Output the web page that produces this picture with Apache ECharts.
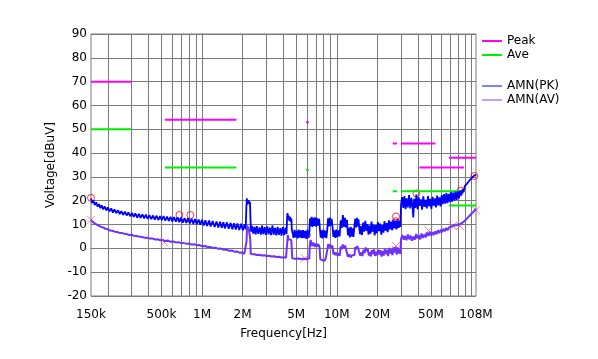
<!DOCTYPE html>
<html>
<head>
<meta charset="utf-8">
<script src="https://cdn.jsdelivr.net/npm/echarts@6/dist/echarts.min.js"></script>
<style>
html,body{margin:0;padding:0;background:#fff;}
#c{width:598px;height:359px;}
</style>
</head>
<body>
<div id="c"></div>
<script>
// ---- data (frequency in MHz, level in dBuV) ----
const xLabelFreqs = [0.15, 0.5, 1, 2, 5, 10, 20, 50, 108];
const xLabelTexts = ['150k', '500k', '1M', '2M', '5M', '10M', '20M', '50M', '108M'];
const gridFreqs = [0.2,0.3,0.4,0.5,0.6,0.7,0.8,0.9,1,2,3,4,5,6,7,8,9,10,20,30,40,50,60,70,80,90,100];

// [startMHz, endMHz, level]
const peakLimits = [[0.15,0.3,70],[0.53,1.8,54],[5.9,6.2,53],[26,28,44],[30,54,44],[41,88,34],[68,108,38]];
const aveLimits  = [[0.15,0.3,50],[0.53,1.8,34],[5.9,6.2,33],[26,28,24],[30,54,24],[41,88,24],[68,108,18]];

const pkTrace = [
[0.150,21.0],[0.153,19.0],[0.156,20.2],[0.160,18.2],[0.164,19.3],[0.168,17.5],[0.172,18.6],[0.176,16.9],[0.180,18.1],[0.185,16.4],[0.190,17.6],[0.195,15.9],[0.200,17.2],[0.206,15.5],[0.212,16.8],[0.218,15.0],[0.224,16.4],[0.231,14.8],[0.238,16.0],[0.245,14.4],[0.252,15.6],[0.260,14.1],[0.268,15.4],[0.276,13.8],[0.284,15.1],[0.293,13.5],[0.302,14.9],[0.311,13.2],[0.320,14.7],[0.330,12.9],[0.340,14.5],[0.350,12.8],[0.361,14.3],[0.372,12.6],[0.383,14.2],[0.395,12.4],[0.407,13.9],[0.420,12.3],[0.433,13.8],[0.446,12.1],[0.460,13.7],[0.474,11.9],[0.488,13.5],[0.503,11.8],[0.518,13.6],[0.534,11.6],[0.550,13.3],[0.567,11.5],[0.584,13.2],[0.602,11.3],[0.620,13.1],[0.639,11.2],[0.658,13.0],[0.678,11.0],[0.699,12.9],[0.720,10.8],[0.742,12.7],[0.765,10.7],[0.788,12.6],[0.812,10.5],[0.837,12.4],[0.862,10.3],[0.888,12.3],[0.915,10.1],[0.943,12.1],[0.972,9.9],[1.00,12.0],[1.03,9.6],[1.06,11.8],[1.09,9.4],[1.13,11.7],[1.16,9.2],[1.20,11.5],[1.24,9.0],[1.28,11.3],[1.32,8.8],[1.36,11.2],[1.40,8.6],[1.44,11.0],[1.48,8.4],[1.53,10.9],[1.58,8.2],[1.63,10.7],[1.68,8.0],[1.73,10.6],[1.78,7.9],[1.83,10.4],[1.89,7.7],[1.95,10.3],[2.01,7.6],[2.07,10.1],[2.11,8.0],
[2.13,16.0],[2.15,21.0],[2.17,18.5],[2.19,20.2],[2.21,18.8],[2.23,20.0],[2.25,18.6],[2.27,19.5],[2.29,12.0],[2.31,7.0],
[2.35,9.4],[2.40,6.2],[2.45,9.0],[2.50,5.9],[2.55,9.3],[2.61,6.1],[2.67,8.8],[2.73,5.8],[2.79,9.5],[2.85,6.0],[2.92,8.9],[2.98,5.7],[3.05,9.2],[3.12,5.9],[3.19,8.7],[3.26,5.6],[3.33,9.6],[3.41,5.8],[3.48,8.6],[3.56,5.5],[3.64,9.0],[3.72,5.7],[3.81,8.5],[3.89,5.4],[3.98,8.9],[4.07,5.6],[4.16,8.7],[4.24,6.0],
[4.28,13.0],[4.31,14.8],[4.35,12.5],[4.40,13.8],[4.45,11.5],[4.50,13.2],[4.55,11.2],[4.60,12.6],[4.64,8.0],
[4.70,7.6],[4.78,4.4],[4.86,7.8],[4.95,4.6],[5.04,7.4],[5.13,4.2],[5.22,7.9],[5.32,4.5],[5.42,7.5],[5.52,4.3],[5.62,7.7],[5.72,4.4],[5.83,7.3],[5.94,4.1],[6.05,7.8],[6.16,4.5],[6.27,7.2],
[6.32,12.5],[6.40,9.3],[6.50,13.2],[6.60,9.0],[6.70,12.8],[6.80,9.4],[6.92,13.0],[7.04,9.1],[7.16,12.6],[7.28,9.5],[7.40,12.4],[7.50,8.0],
[7.60,4.5],[7.72,7.6],[7.85,4.2],[7.98,7.8],[8.11,4.6],[8.24,7.4],[8.37,4.3],[8.50,7.7],
[8.62,12.6],[8.75,9.2],[8.88,12.9],[9.02,9.5],[9.16,12.4],[9.30,9.0],
[9.45,4.8],[9.60,7.6],[9.76,4.4],[9.92,7.9],[10.1,4.7],[10.3,7.5],[10.5,5.0],
[10.7,11.8],[10.9,8.6],[11.1,14.0],[11.3,9.0],[11.5,12.8],[11.7,8.8],[11.9,12.0],
[12.1,5.5],[12.3,8.6],[12.5,4.6],[12.7,9.0],[12.9,5.0],[13.1,8.4],[13.3,4.8],[13.5,8.8],
[13.7,12.4],[13.9,8.8],[14.1,12.8],[14.3,9.2],[14.5,12.2],[14.7,8.5],
[14.9,6.0],[15.1,9.4],[15.4,5.6],[15.7,10.8],[16.0,7.0],[16.3,11.6],[16.6,7.4],[16.9,10.2],[17.2,5.8],[17.5,9.6],[17.8,6.2],[18.1,11.2],[18.4,7.0],[18.8,10.0],[19.1,5.4],[19.5,9.8],[19.8,6.4],
[20.2,11.0],[20.6,7.2],[21.0,10.4],[21.4,5.8],[21.8,9.8],[22.2,6.6],[22.6,11.4],[23.0,7.4],[23.5,10.6],[23.9,6.8],[24.4,11.8],[24.8,8.0],[25.3,11.2],[25.8,7.6],[26.3,12.0],[26.8,8.4],[27.3,11.6],[27.8,8.0],[28.3,12.2],[28.8,8.6],[29.3,11.4],[29.7,9.0],
[30.0,18.5],[30.6,21.5],[31.2,17.0],[31.8,22.0],[32.4,16.5],[33.0,21.0],[33.7,17.2],[34.4,22.4],[35.1,16.8],[35.8,21.2],[36.5,17.5],[37.0,13.0],[37.5,20.8],[38.3,17.0],[39.0,22.6],[39.8,16.4],[40.6,21.4],[41.4,17.8],[42.2,20.6],[43.0,16.2],[43.9,21.8],[44.8,17.4],[45.7,20.4],[46.6,16.8],[47.5,22.0],[48.5,17.6],[49.4,20.8],[50.4,16.6],[51.4,21.6],[52.4,17.9],[53.5,21.0],[54.5,17.2],[55.6,22.2],[56.7,18.0],[57.8,21.4],[59.0,17.6],[60.1,22.4],[61.3,18.6],[62.5,22.8],[63.8,18.8],[65.0,23.2],[66.3,19.0],[67.6,22.9],[69.0,19.4],[70.3,23.6],[71.7,19.6],[73.2,23.4],[74.6,20.0],[76.1,23.8],[77.6,20.4],[79.1,23.9],[80.7,21.0],[82.3,24.2],[83.9,22.2],[85.6,24.8],[87.3,23.6],[89.0,26.0],[90.8,25.2],[92.6,27.2],[94.4,26.8],[96.3,28.4],[98.2,28.2],[100.1,29.5],[102.1,29.3],[104.1,30.4],[106.0,30.3],[108.0,31.0]
];

const avTrace = [
[0.150,12.0],[0.155,11.0],[0.160,10.6],[0.166,9.9],[0.172,9.5],[0.178,9.0],[0.185,8.8],[0.192,8.2],[0.200,8.0],[0.208,7.5],[0.216,7.4],[0.225,7.0],[0.234,6.9],[0.244,6.5],[0.254,6.5],[0.265,6.1],[0.276,6.0],[0.288,5.6],[0.300,5.7],[0.312,5.3],[0.325,5.2],[0.335,5.6],[0.340,5.0],[0.350,4.8],[0.365,4.7],[0.380,4.4],[0.395,4.5],[0.410,4.1],[0.430,4.1],[0.450,3.7],[0.470,3.8],[0.490,3.4],[0.510,3.5],[0.530,3.1],[0.560,3.2],[0.580,2.8],[0.610,2.9],[0.640,2.5],[0.670,2.6],[0.700,2.2],[0.730,2.3],[0.770,1.9],[0.800,2.0],[0.840,1.6],[0.880,1.7],[0.920,1.3],[0.960,1.4],[1.00,0.9],[1.05,1.0],[1.10,0.6],[1.15,0.6],[1.20,0.2],[1.26,0.3],[1.32,-0.2],[1.38,-0.1],[1.45,-0.6],[1.52,-0.5],[1.59,-1.0],[1.66,-0.9],[1.74,-1.4],[1.82,-1.3],[1.90,-1.8],[1.98,-1.7],[2.06,-2.3],[2.11,-2.0],
[2.14,3.0],[2.16,9.5],[2.19,10.2],[2.22,8.5],[2.25,9.0],[2.28,4.0],[2.30,-2.4],
[2.35,-2.6],[2.45,-2.5],[2.55,-2.8],[2.66,-2.7],[2.78,-3.0],[2.90,-2.9],[3.02,-3.2],[3.15,-3.1],[3.28,-3.4],[3.42,-3.3],[3.57,-3.6],[3.72,-3.5],[3.88,-3.8],[4.04,-3.7],[4.20,-3.9],[4.27,-3.6],
[4.30,3.0],[4.33,5.6],[4.38,3.8],[4.45,4.2],[4.52,3.0],[4.60,3.5],[4.64,-1.0],[4.68,-4.2],
[4.78,-4.0],[4.90,-4.4],[5.02,-3.9],[5.14,-4.3],[5.27,-4.0],[5.40,-4.5],[5.53,-4.1],[5.67,-4.4],[5.81,-4.0],[5.95,-4.5],[6.10,-4.1],[6.25,-4.3],
[6.32,2.0],[6.40,3.5],[6.55,1.0],[6.70,2.4],[6.85,0.6],[7.00,2.0],[7.15,0.8],[7.30,1.8],[7.45,0.5],
[7.55,-4.5],[7.70,-3.8],[7.85,-5.0],[8.00,-4.2],[8.15,-5.2],[8.30,-4.0],[8.45,-4.8],[8.58,-4.2],
[8.65,1.8],[8.80,0.4],[8.95,1.6],[9.10,0.2],[9.25,1.2],[9.38,-0.5],
[9.45,-2.5],[9.60,-1.6],[9.78,-2.8],[9.95,-1.8],[10.1,-3.0],[10.3,-2.0],[10.5,-3.2],
[10.7,0.8],[10.9,-0.4],[11.1,1.6],[11.3,0.2],[11.5,1.2],[11.7,-0.2],[11.9,0.6],
[12.1,-3.5],[12.4,-2.6],[12.7,-3.8],[13.0,-2.9],[13.3,-3.6],[13.55,-2.8],
[13.7,0.6],[13.95,-0.4],[14.2,1.0],[14.45,-0.2],[14.7,0.4],
[14.9,-3.0],[15.2,-1.8],[15.5,-3.2],[15.8,-0.6],[16.1,-2.0],[16.4,0.4],[16.7,-1.2],[17.0,-0.2],[17.3,-3.0],[17.6,-1.6],[17.9,-3.4],[18.2,-0.8],[18.5,-2.4],[18.9,-0.4],[19.2,-3.2],[19.6,-1.4],[19.9,-3.0],
[20.3,-0.6],[20.7,-2.6],[21.1,-0.8],[21.5,-3.4],[21.9,-1.2],[22.3,-3.0],[22.7,-0.2],[23.1,-2.4],[23.6,-0.6],[24.0,-3.2],[24.5,0.2],[24.9,-2.2],[25.4,-0.4],[25.9,-2.8],[26.4,0.4],[26.9,-1.8],[27.4,0.6],[27.9,-2.6],[28.4,0.2],[28.9,-2.0],[29.4,-0.4],[29.7,-2.4],
[30.0,4.0],[30.7,5.6],[31.4,3.6],[32.1,5.2],[32.9,3.4],[33.7,5.8],[34.5,3.8],[35.3,5.4],[36.1,3.2],[37.0,5.0],[37.9,3.6],[38.8,6.0],[39.7,4.2],[40.6,5.6],[41.6,3.8],[42.6,6.2],[43.6,4.4],[44.6,5.8],[45.7,4.6],[46.8,6.6],[47.9,5.2],[49.0,7.0],[50.2,5.4],[51.4,6.8],[52.6,5.6],[53.8,7.2],[55.1,6.0],[56.4,7.6],[57.7,6.4],[59.1,7.8],[60.5,6.8],[61.9,8.2],[63.4,7.2],[64.9,8.6],[66.4,7.6],[68.0,8.8],[69.6,8.0],[71.2,9.2],[72.9,8.4],[74.6,9.6],[76.4,8.8],[78.2,9.8],[80.0,9.2],[81.9,10.2],[83.8,9.8],[85.8,10.8],[87.8,10.8],[89.9,11.8],[92.0,12.0],[94.2,13.0],[96.4,13.4],[98.7,14.2],[101.0,14.6],[103.4,15.4],[105.8,15.8],[108.0,16.6]
];

const pkMarkFreqs = [0.15, 0.68, 0.82, 6.0, 27.5, 27.5, 39, 83, 105];
const pkMarkVals  = [21.2, 14.0, 14.0, 5.6, 13.4, 11.4, 23.1, 24.2, 30.4];
const avMarkFreqs = [0.15, 0.525, 5.8, 27.5, 27.5, 48, 73, 82, 108];
const avMarkVals  = [12.0, 2.5, -4.2, 1.0, -0.6, 7.5, 9.4, 9.4, 16.0];

// ---- build ----
const L = Math.log10;
function limitData(segs){
  const out = [];
  segs.forEach((s, i) => {
    if (i > 0) out.push([L(s[0]), '-']);
    out.push([L(s[0]), s[2]]);
    out.push([L(s[1]), s[2]]);
  });
  return out;
}
const toXY = arr => arr.map(p => [L(p[0]), p[1]]);
const zipXY = (fs, vs) => fs.map((f, i) => [L(f), vs[i]]);
function fmtX(v){
  for (let i = 0; i < xLabelFreqs.length; i++) {
    if (Math.abs(L(xLabelFreqs[i]) - v) < 1e-6) return xLabelTexts[i];
  }
  return '';
}

const FONT = 'DejaVu Sans';
const GRIDC = '#7a7a7a';
const chart = echarts.init(document.getElementById('c'), null, {renderer: 'canvas'});
chart.setOption({
  animation: false,
  backgroundColor: '#fff',
  textStyle: {fontFamily: FONT},
  grid: {left: 91, right: 122, top: 34, bottom: 63, show: true, borderColor: GRIDC, borderWidth: 1, backgroundColor: 'transparent'},
  legend: [
    {data: ['Peak', 'Ave'], orient: 'vertical', left: 482, top: 34, itemGap: 0, itemWidth: 20, itemHeight: 2, icon: 'rect',
     textStyle: {fontFamily: FONT, fontSize: 12, color: '#000', lineHeight: 14}, padding: 0, selectedMode: false},
    {data: ['AMN(PK)', 'AMN(AV)'], orient: 'vertical', left: 482, top: 79, itemGap: 0, itemWidth: 20, itemHeight: 1, icon: 'rect',
     textStyle: {fontFamily: FONT, fontSize: 12, color: '#000', lineHeight: 14}, padding: 0, selectedMode: false}
  ],
  xAxis: {
    type: 'value', min: L(0.15), max: L(108),
    name: 'Frequency[Hz]', nameLocation: 'middle', nameGap: 32,
    nameTextStyle: {fontFamily: FONT, fontSize: 12, color: '#000'},
    axisLine: {show: true, lineStyle: {color: GRIDC}},
    axisTick: {show: false, customValues: gridFreqs.map(L)},
    axisLabel: {customValues: xLabelFreqs.map(L), formatter: fmtX, margin: 13, fontFamily: FONT, fontSize: 12, color: '#000'},
    splitLine: {show: true, lineStyle: {color: GRIDC, width: 1}}
  },
  yAxis: {
    type: 'value', min: -20, max: 90, interval: 10,
    name: 'Voltage[dBuV]', nameLocation: 'middle', nameGap: 34, nameRotate: 90,
    nameTextStyle: {fontFamily: FONT, fontSize: 12, color: '#000'},
    axisLine: {show: true, lineStyle: {color: GRIDC}},
    axisTick: {show: false},
    axisLabel: {margin: 4, fontFamily: FONT, fontSize: 12, color: '#000'},
    splitLine: {show: true, lineStyle: {color: GRIDC, width: 1}}
  },
  series: [
    {name: 'Peak', type: 'line', data: limitData(peakLimits), showSymbol: false, connectNulls: false,
     color: '#ff00ff', lineStyle: {width: 2, color: '#ff00ff'}, silent: true},
    {name: 'Ave', type: 'line', data: limitData(aveLimits), showSymbol: false, connectNulls: false,
     color: '#00ee00', lineStyle: {width: 2, color: '#00ee00'}, silent: true},
    {name: 'pkmark', type: 'scatter', data: zipXY(pkMarkFreqs, pkMarkVals), symbol: 'circle', symbolSize: 7,
     itemStyle: {color: 'rgba(0,0,0,0)', borderColor: '#ff0000', borderWidth: 1}, silent: true},
    {name: 'AMN(PK)', type: 'line', data: toXY(pkTrace), showSymbol: false,
     color: '#0000ff', lineStyle: {width: 1.8, color: '#0000ff'}, silent: true},
    {name: 'AMN(AV)', type: 'line', data: toXY(avTrace), showSymbol: false,
     color: '#7f3fff', lineStyle: {width: 2, color: '#7030ff'}, silent: true},
    {name: 'avmark', type: 'scatter', data: zipXY(avMarkFreqs, avMarkVals), symbol: 'path://M0,0L10,10M10,0L0,10', symbolSize: 8,
     itemStyle: {color: 'rgba(0,0,0,0)', borderColor: '#ff6080', borderWidth: 1}, silent: true}
  ]
});
</script>
</body>
</html>
